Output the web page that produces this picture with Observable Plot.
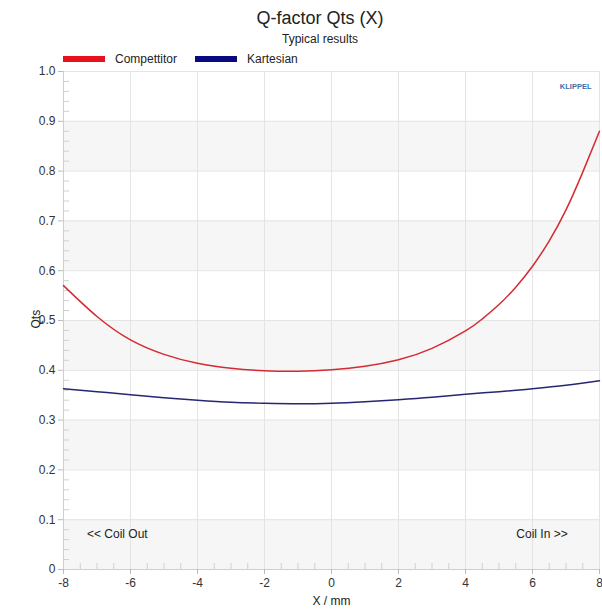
<!DOCTYPE html>
<html>
<head>
<meta charset="utf-8">
<script src="https://cdn.jsdelivr.net/npm/d3@7"></script>
<script src="https://cdn.jsdelivr.net/npm/@observablehq/plot@0.6"></script>
<style>
  html, body { margin: 0; padding: 0; background: #fff; }
  body { width: 602px; font-family: "Liberation Sans", Arial, sans-serif; color: #222; }
  #title { height: 30px; line-height: 36px; text-align: center; font-size: 18px; padding-left: 38px; box-sizing: border-box; }
  #subtitle { height: 18px; line-height: 18px; text-align: center; font-size: 12px; padding-left: 38px; box-sizing: border-box; }
  #legend { height: 15px; display: flex; align-items: center; font-size: 12px; padding-left: 63px; }
  .sw { display: inline-block; width: 42px; height: 6px; margin-right: 10px; }
  .item { display: flex; align-items: center; margin-right: 18px; position: relative; top: 3px; }
</style>
</head>
<body>
<div id="title">Q-factor Qts (X)</div>
<div id="subtitle">Typical results</div>
<div id="legend"></div>
<div id="chart"></div>
<script>
const seriesNames = ["Compettitor", "Kartesian"];
const seriesColors = ["#d42a32", "#262673"];
const legendColors = ["#e8101a", "#0a0a80"];

const competitorX = [-8, -7, -6, -5, -4, -3, -2, -1, 0, 1, 2, 3, 4, 4.5, 5, 5.5, 6, 6.5, 7, 7.5, 8];
const competitorY = [0.570, 0.508, 0.461, 0.432, 0.414, 0.404, 0.399, 0.398, 0.401, 0.408, 0.421, 0.444, 0.479, 0.503, 0.532, 0.567, 0.609, 0.660, 0.722, 0.798, 0.880];

const kartesianX = [-8, -7, -6, -5, -4, -3, -2, -1, 0, 1, 2, 3, 4, 5, 6, 7, 8];
const kartesianY = [0.363, 0.357, 0.351, 0.345, 0.340, 0.336, 0.334, 0.333, 0.334, 0.337, 0.341, 0.346, 0.352, 0.357, 0.363, 0.370, 0.379];

const xTicks = [-8, -6, -4, -2, 0, 2, 4, 6, 8];
const yTicks = [0, 0.1, 0.2, 0.3, 0.4, 0.5, 0.6, 0.7, 0.8, 0.9, 1.0];
const bandStarts = [0, 0.2, 0.4, 0.6, 0.8];
const xMinor = d3.range(-7.5, 8, 0.5).filter(v => !xTicks.includes(v));
const yMinor = d3.range(0.02, 1.0, 0.02).map(v => +v.toFixed(2)).filter(v => Math.abs(v * 10 - Math.round(v * 10)) > 1e-6);

const leftNote = [{x: -7.3, y: 0.07, text: "<< Coil Out"}];
const rightNote = [{x: 7.05, y: 0.07, text: "Coil In >>"}];

// legend
const legend = document.getElementById("legend");
seriesNames.forEach((n, i) => {
  const it = document.createElement("span");
  it.className = "item";
  it.innerHTML = `<span class="sw" style="background:${legendColors[i]}"></span><span>${n}</span>`;
  legend.appendChild(it);
});

const data = [
  ...competitorX.map((x, i) => ({x, y: competitorY[i], s: seriesNames[0]})),
  ...kartesianX.map((x, i) => ({x, y: kartesianY[i], s: seriesNames[1]}))
];

const chart = Plot.plot({
  width: 602,
  height: 547,
  marginLeft: 63,
  marginRight: 3,
  marginTop: 8,
  marginBottom: 41,
  style: {fontFamily: "Liberation Sans, Arial, sans-serif", fontSize: "12px", color: "#333", background: "#fff"},
  x: {domain: [-8, 8]},
  y: {domain: [0, 1]},
  color: {domain: seriesNames, range: seriesColors},
  marks: [
    Plot.rect(bandStarts, {x1: -8, x2: 8, y1: d => d, y2: d => d + 0.1, fill: "#f6f6f6"}),
    Plot.ruleX(xTicks, {stroke: "#e4e4e4", strokeWidth: 1}),
    Plot.ruleY(yTicks, {stroke: "#e4e4e4", strokeWidth: 1}),
    Plot.ruleY(yMinor, {x1: -8, x2: -7.82, stroke: "#d0d0d0"}),
    Plot.ruleX(xMinor, {y1: 0, y2: 0.012, stroke: "#d0d0d0"}),
    Plot.ruleX([-8], {stroke: "#cfcfcf"}),
    Plot.ruleY([0], {stroke: "#cfcfcf"}),
    Plot.axisY({ticks: yTicks, tickSize: 5, tickPadding: 3, stroke: "#bbb",
      tickFormat: d => d === 0 ? "0" : d.toFixed(1), label: null, fill: "#333"}),
    Plot.axisX({ticks: xTicks, tickSize: 5, tickPadding: 4, stroke: "#bbb",
      tickFormat: d => String(d), label: null, fill: "#333"}),
    Plot.text(["Qts"], {frameAnchor: "left", dx: -27, dy: 8, rotate: -90, fontSize: 12, fill: "#222"}),
    Plot.text(["X / mm"], {frameAnchor: "bottom", dy: 35, fontSize: 12, fill: "#222"}),
    Plot.text(leftNote, {x: "x", y: "y", text: "text", textAnchor: "start", fontSize: 12, fill: "#222"}),
    Plot.text(rightNote, {x: "x", y: "y", text: "text", textAnchor: "end", fontSize: 12, fill: "#222"}),
    Plot.text(["KLIPPEL"], {frameAnchor: "top-right", dx: -8, dy: 12, fontSize: 7.5, fontWeight: "bold", fill: "#3a6ea5"}),
    Plot.line(data, {x: "x", y: "y", z: "s", stroke: "s", strokeWidth: 1.5, curve: "natural"})
  ]
});
document.getElementById("chart").appendChild(chart);
</script>
</body>
</html>
